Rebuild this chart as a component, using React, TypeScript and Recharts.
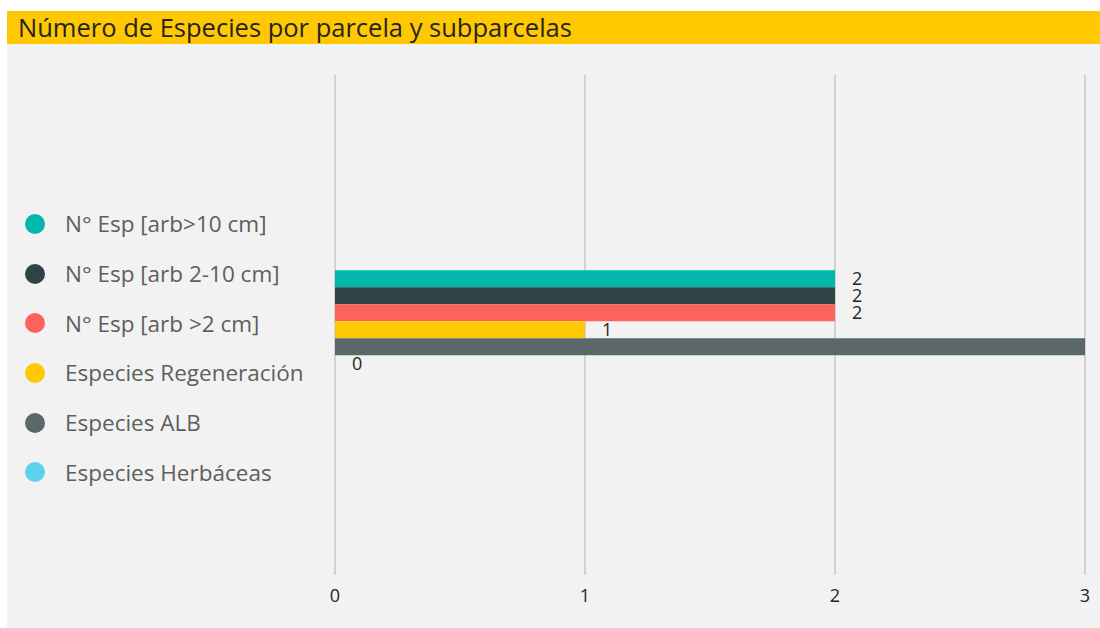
import React from "react";
import { BarChart, Bar, XAxis, YAxis, CartesianGrid, LabelList } from "recharts";

const categories = ["Parcela"];
const seriesNames = [
  "N° Esp [arb>10 cm]",
  "N° Esp [arb 2-10 cm]",
  "N° Esp [arb >2 cm]",
  "Especies Regeneración",
  "Especies ALB",
  "Especies Herbáceas",
];
const seriesValues = [2, 2, 2, 1, 3, 0];
const seriesColors = ["#01B8AA", "#2E4447", "#FD625E", "#FFC800", "#5B686A", "#5CD3EC"];
const xTicks = [0, 1, 2, 3];
const title = "Número de Especies por parcela y subparcelas";

const data = categories.map((c) => {
  const row: Record<string, string | number> = { name: c };
  seriesNames.forEach((s, i) => {
    row["s" + i] = seriesValues[i];
  });
  return row;
});

const FONT = "'Open Sans', 'Noto Sans', sans-serif";
const CHART_W = 1093;

const renderValueLabel = (props: any) => {
  const { x, y, width, height, value } = props;
  const lx = Number(x) + Number(width) + 17;
  if (lx + 8 > CHART_W) return null;
  return (
    <text
      x={lx}
      y={Number(y) + Number(height) / 2}
      dy="0.35em"
      fill="#252423"
      fontSize={18}
      fontFamily={FONT}
      textAnchor="start"
    >
      {String(value)}
    </text>
  );
};

export default function App() {
  return (
    <div style={{ position: "absolute", left: 0, top: 0, width: 1100, height: 628, background: "#fff", overflow: "hidden" }}>
      <div style={{ position: "absolute", left: 7, top: 11, width: 1093, height: 617, background: "#F2F2F2" }}>
        <div
          style={{
            height: 33,
            background: "#FFC800",
            fontFamily: FONT,
            fontSize: 25.5,
            lineHeight: "33px",
            paddingLeft: 11,
            color: "#252423",
            whiteSpace: "nowrap",
            overflow: "hidden",
          }}
        >
          {title}
        </div>
        <div style={{ position: "absolute", left: 18, top: 188, fontFamily: FONT }}>
          {seriesNames.map((s, i) => (
            <div key={s} style={{ display: "flex", alignItems: "center", height: 49.7 }}>
              <span
                style={{
                  display: "inline-block",
                  width: 20,
                  height: 20,
                  borderRadius: 10,
                  background: seriesColors[i],
                  marginRight: 20,
                  flex: "0 0 auto",
                }}
              />
              <span style={{ fontSize: 22.5, color: "#605E5C", whiteSpace: "nowrap" }}>{s}</span>
            </div>
          ))}
        </div>
        <div style={{ position: "absolute", left: 0, top: 33 }}>
          <BarChart
            width={CHART_W}
            height={584}
            data={data}
            layout="vertical"
            margin={{ top: 31, right: 15, bottom: 23, left: 328 }}
            barCategoryGap="39.5%"
            barGap={0}
          >
            <CartesianGrid horizontal={false} vertical={true} stroke="#D2D2D2" strokeWidth={2} />
            <XAxis
              type="number"
              domain={[0, 3]}
              ticks={xTicks}
              axisLine={false}
              tickLine={false}
              tickMargin={8}
              height={30}
              tick={{ fill: "#252423", fontSize: 18, fontFamily: FONT }}
            />
            <YAxis type="category" dataKey="name" hide padding={{ top: 0, bottom: 6 }} />
            {seriesNames.map((s, i) => (
              <Bar
                key={s}
                dataKey={"s" + i}
                name={s}
                fill={seriesColors[i]}
                minPointSize={0.01}
                isAnimationActive={false}
              >
                <LabelList dataKey={"s" + i} content={renderValueLabel} />
              </Bar>
            ))}
          </BarChart>
        </div>
      </div>
    </div>
  );
}
